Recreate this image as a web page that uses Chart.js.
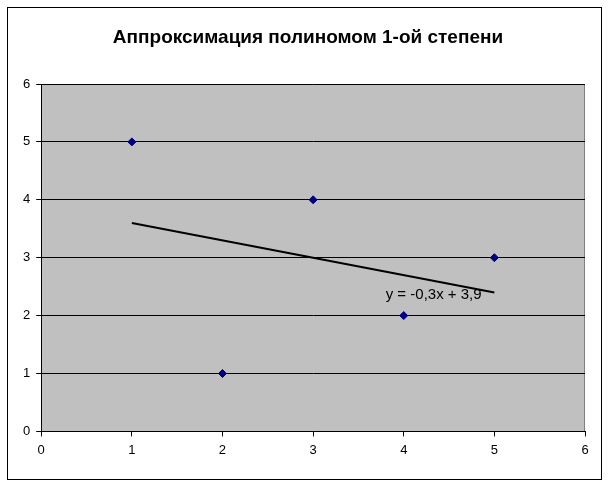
<!DOCTYPE html>
<html>
<head>
<meta charset="utf-8">
<script src="https://cdn.jsdelivr.net/npm/chart.js@4"></script>
<style>
  html, body { margin: 0; padding: 0; background: #fff; }
  #wrap { width: 609px; height: 484px; }
</style>
</head>
<body>
<div id="wrap"><canvas id="chart" width="609" height="484"></canvas></div>
<script>
// points
var xValues = [1, 2, 3, 4, 5];
var yValues = [5, 1, 4, 2, 3];

// trend line ends (x = 1 and x = 5)
var trendX = [1, 5];
var trendY = [3.6, 2.4];
var trendLabel = 'y = -0,3x + 3,9';

var titleText = 'Аппроксимация полиномом 1-ой степени';

var points = xValues.map(function (x, i) { return { x: x, y: yValues[i] }; });
var trend = trendX.map(function (x, i) { return { x: x, y: trendY[i] }; });

// gray plot area + outer frame + title + equation label
var excelLook = {
    id: 'excelLook',
    beforeDraw: function (chart) {
        var c = chart.ctx, a = chart.chartArea;
        c.save();
        c.fillStyle = '#fff';
        c.fillRect(0, 0, chart.width, chart.height);
        c.strokeStyle = '#000';
        c.lineWidth = 1;
        c.strokeRect(7.5, 7.5, 594, 472);
        c.fillStyle = '#c0c0c0';
        c.fillRect(a.left, a.top, a.right - a.left, a.bottom - a.top);
        c.strokeStyle = '#808080';
        c.beginPath();
        c.moveTo(a.left, a.top + 0.5);
        c.lineTo(a.right - 0.5, a.top + 0.5);
        c.lineTo(a.right - 0.5, a.bottom);
        c.stroke();
        c.font = 'bold 19px "Liberation Sans", Arial, sans-serif';
        c.fillStyle = '#000';
        c.textAlign = 'center';
        c.textBaseline = 'alphabetic';
        c.fillText(titleText, 308, 43);
        c.restore();
    },
    afterDatasetsDraw: function (chart) {
        var c = chart.ctx;
        var px = chart.scales.x.getPixelForValue(4.33);
        var py = chart.scales.y.getPixelForValue(2.36);
        c.save();
        c.font = '15px "Liberation Sans", Arial, sans-serif';
        c.fillStyle = '#000';
        c.textAlign = 'center';
        c.textBaseline = 'middle';
        c.fillText(trendLabel, px, py);
        c.restore();
    }
};

new Chart(document.getElementById('chart').getContext('2d'), {
    type: 'scatter',
    data: {
        datasets: [{
            label: 'data',
            data: points,
            pointStyle: 'rectRot',
            pointRadius: 4,
            backgroundColor: '#000080',
            borderColor: '#000080',
            borderWidth: 1
        }, {
            type: 'line',
            label: 'trend',
            data: trend,
            borderColor: '#000',
            borderWidth: 2,
            pointRadius: 0,
            fill: false
        }]
    },
    options: {
        responsive: false,
        animation: false,
        events: [],
        layout: { padding: { left: 17, right: 24, top: 84, bottom: 20 } },
        plugins: {
            legend: { display: false },
            tooltip: { enabled: false },
            title: { display: false }
        },
        scales: {
            x: {
                type: 'linear',
                min: 0,
                max: 6,
                ticks: { stepSize: 1, color: '#000', padding: 6,
                         font: { family: '"Liberation Sans", Arial, sans-serif', size: 13 } },
                grid: { drawOnChartArea: false, drawTicks: true, tickLength: 5, color: '#000' },
                border: { color: '#000', width: 1 }
            },
            y: {
                type: 'linear',
                min: 0,
                max: 6,
                ticks: { stepSize: 1, color: '#000', padding: 6,
                         font: { family: '"Liberation Sans", Arial, sans-serif', size: 13 } },
                grid: { color: '#000', lineWidth: 1, tickLength: 5 },
                border: { color: '#000', width: 1 }
            }
        }
    },
    plugins: [excelLook]
});
</script>
</body>
</html>
